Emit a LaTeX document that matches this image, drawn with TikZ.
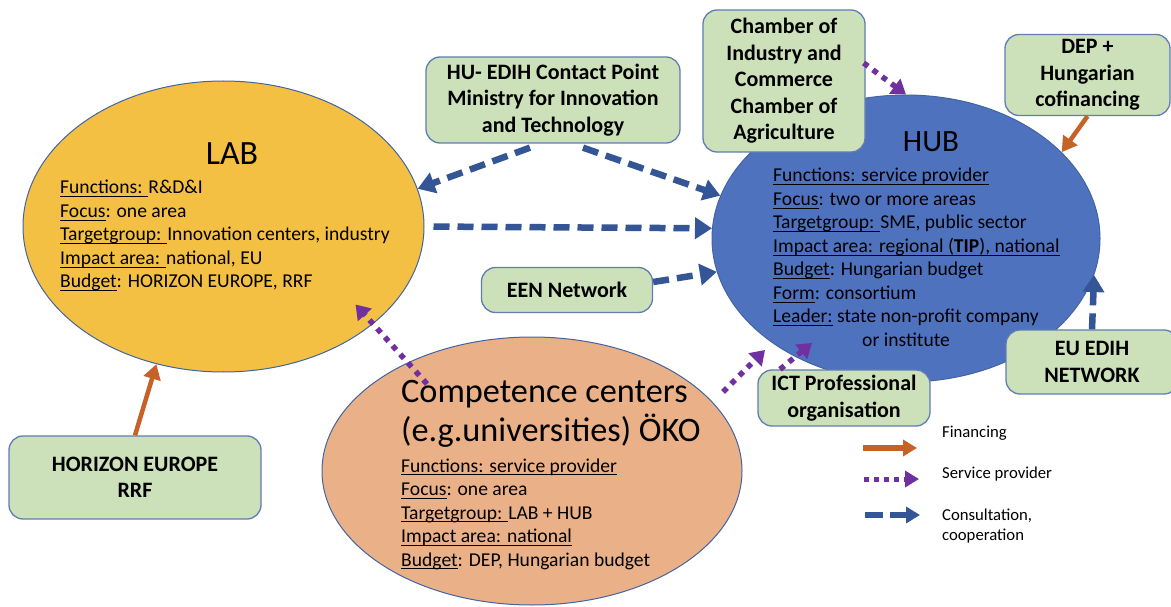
\documentclass[tikz,border=0pt]{standalone}
\usepackage{fontspec}
\setmainfont{Carlito}
\usetikzlibrary{shapes.geometric,arrows.meta}

% underline at a fixed depth below the baseline
\newcommand{\myul}[1]{\setbox0\hbox{#1}\rlap{\rule[-3.4pt]{\wd0}{1.3pt}}\box0\relax}

\definecolor{labfill}{RGB}{244,192,67}
\definecolor{hubfill}{RGB}{78,114,190}
\definecolor{compfill}{RGB}{234,177,136}
\definecolor{ellline}{RGB}{68,100,160}
\definecolor{boxfill}{RGB}{204,224,185}
\definecolor{boxline}{RGB}{96,125,180}
\definecolor{finc}{RGB}{197,98,40}
\definecolor{svcc}{RGB}{112,48,160}
\definecolor{consc}{RGB}{52,86,150}

\newcommand{\myboxfont}{\fontsize{22pt}{26.5pt}\selectfont\bfseries}
\newcommand{\mybodyfont}{\fontsize{19.6pt}{23.5pt}\selectfont}
\newcommand{\mylegendfont}{\fontsize{16.7pt}{20pt}\selectfont}

\tikzset{
  blob/.style={ellipse, draw=ellline, line width=1pt, inner sep=0pt},
  greenbox/.style={draw=boxline, fill=boxfill, line width=1.3pt, rounded corners=14pt,
    inner sep=0pt, align=center, font=\myboxfont},
  info/.style={anchor=base west, inner sep=0pt, font=\mybodyfont},
  legendtext/.style={anchor=base west, inner sep=0pt, font=\mylegendfont},
  fin/.style={draw=finc, line width=4.5pt, -{Triangle[length=15pt,width=17pt]}},
  svc/.style={draw=svcc, line width=5.5pt, dash pattern=on 5.5pt off 6pt,
    -{Triangle[length=14pt,width=18pt]}},
  cons/.style={draw=consc, line width=6.5pt, dash pattern=on 16pt off 8pt,
    -{Triangle[length=17pt,width=21pt]}},
}

\begin{document}
\begin{tikzpicture}[x=1pt, y=-1pt]
\useasboundingbox (0,0) rectangle (1171,607);
\clip (0,0) rectangle (1171,607);
\fill[white] (0,0) rectangle (1171,607);

% the three main bodies
\node[blob, fill=labfill, minimum width=401pt, minimum height=291pt] (lab) at (223.5,226.5) {};
\node[blob, fill=hubfill, minimum width=388pt, minimum height=287pt] (hub) at (906,238.5) {};
\node[blob, fill=compfill, minimum width=420pt, minimum height=268pt] (comp) at (532,471) {};

% titles
\node[anchor=base, inner sep=0pt, font=\fontsize{34pt}{40pt}\selectfont] (labtitle) at (232,165) {LAB};
\node[anchor=base, inner sep=0pt, font=\fontsize{31pt}{36pt}\selectfont] (hubtitle) at (931,152) {HUB};
\node[anchor=base west, inner sep=0pt, font=\fontsize{34.3pt}{38.5pt}\selectfont] (comptitle) at (401,402)
  {\begin{tabular}[t]{@{}l@{}}Competence centers\\(e.g.universities) ÖKO\end{tabular}};

% descriptions
\node[info] (labinfo) at (60,194) {\begin{tabular}[t]{@{}l@{}}
\myul{Functions: }R\&D\&I\\
\myul{Focus}: one area\\
\myul{Targetgroup: }Innovation centers, industry\\
\myul{Impact area: }national, EU\\
\myul{Budget}: HORIZON EUROPE, RRF
\end{tabular}};

\node[info] (hubinfo) at (773,182) {\begin{tabular}[t]{@{}l@{}}
\myul{Functions: service provider}\\
\myul{Focus}: two or more areas\\
\myul{Targetgroup: }SME, public sector\\
\myul{Impact area: regional (\textbf{TIP}), national}\\
\myul{Budget}: Hungarian budget\\
\myul{Form}: consortium\\
\myul{Leader:} state non-profit company\\
\hspace*{89pt}or institute
\end{tabular}};

\node[info] (compinfo) at (401,472) {\begin{tabular}[t]{@{}l@{}}
\myul{Functions: service provider}\\
\myul{Focus}: one area\\
\myul{Targetgroup: }LAB + HUB\\
\myul{Impact area: national}\\
\myul{Budget}: DEP, Hungarian budget
\end{tabular}};

% actors
\node[greenbox, minimum width=254pt, minimum height=86pt] (hu) at (553,100)
  {HU- EDIH Contact Point\\Ministry for Innovation\\and Technology};
\node[greenbox, minimum width=162pt, minimum height=142pt] (chamber) at (784,81)
  {Chamber of\\Industry and\\Commerce\\Chamber of\\Agriculture};
\node[greenbox, minimum width=165pt, minimum height=81pt] (dep) at (1087.5,75)
  {DEP +\\Hungarian\\cofinancing};
\node[greenbox, minimum width=171pt, minimum height=45pt] (een) at (567,290) {EEN Network};
\node[greenbox, minimum width=172pt, minimum height=56pt] (ict) at (844,398)
  {ICT Professional\\organisation};
\node[greenbox, minimum width=172pt, minimum height=64pt] (euedih) at (1092,362)
  {EU EDIH\\NETWORK};
\node[greenbox, minimum width=252pt, minimum height=83pt] (horizon) at (135,477.5)
  {HORIZON EUROPE\\RRF};

% financing
\draw[fin] (horizon.north) -- (lab.244);
\draw[fin] (dep.south) -- (hub.29);

% service provision
\coordinate (cl1) at ([shift={(-105,-87)}]comp.center);
\coordinate (cl2) at ([shift={(132,78)}]lab.center);
\coordinate (ch1) at ([shift={(191,-79)}]comp.center);
\coordinate (ch2) at ([shift={(-141,111.5)}]hub.center);
\coordinate (ih1) at ([shift={(-64,0)}]ict.north);
\coordinate (ih2) at ([shift={(-94,104.5)}]hub.center);
\draw[svc] (cl1) -- (cl2);
\draw[svc] (ch1) -- (ch2);
\draw[svc] (ih1) -- (ih2);
\draw[svc] ([shift={(-2,-18)}]chamber.east) -- (hub.north);

% consultation and cooperation
\draw[cons] ([shift={(-23,4)}]hu.south) -- (lab.11);
\draw[cons] ([shift={(30,4)}]hu.south) -- (hub.167);
\draw[cons, shorten <=9pt] (lab.0) -- (hub.177);
\draw[cons] ([shift={(0,-8)}]een.east) -- (hub.190);
\draw[cons] (euedih.north) -- (hub.-11);

% legend
\coordinate (fa) at (863,448);  \coordinate (fb) at (917,448);
\coordinate (sa) at (864,479);  \coordinate (sb) at (919,479);
\coordinate (ca) at (865,515);  \coordinate (cb) at (920,515);
\draw[draw=finc, line width=5.5pt, -{Triangle[length=14pt,width=16pt]}] (fa) -- (fb);
\draw[draw=svcc, line width=5pt, dash pattern=on 5pt off 5pt, -{Triangle[length=14pt,width=16pt]}] (sa) -- (sb);
\draw[draw=consc, line width=6pt, dash pattern=on 18pt off 7pt, -{Triangle[length=14pt,width=16pt]}] (ca) -- (cb);
\node[legendtext] (lfin) at (942,437) {Financing};
\node[legendtext] (lsvc) at (942,478) {Service provider};
\node[legendtext] (lcons) at (942,520)
  {\begin{tabular}[t]{@{}l@{}}Consultation,\\cooperation\end{tabular}};
\end{tikzpicture}
\end{document}
